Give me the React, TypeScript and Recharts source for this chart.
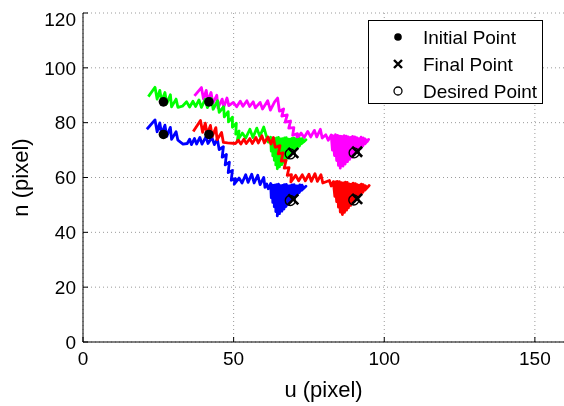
import React from "react";
import { ComposedChart, Line, Scatter, XAxis, YAxis, CartesianGrid, Label } from "recharts";

const xTicks = [0, 50, 100, 150];
const yTicks = [0, 20, 40, 60, 80, 100, 120];

// trajectories, [u, n] in pixels
const greenPath = [
  [21.7, 89.5], [23.9, 92.9], [24.6, 88.6], [25.5, 91.8], [26.1, 87.8], [27.2, 91.0], [27.8, 86.9], [29.0, 90.2],
  [29.4, 85.8], [30.9, 88.6], [31.5, 85.6], [33.0, 86.0], [34.4, 87.6], [35.4, 85.7], [36.5, 87.8], [37.4, 85.9],
  [38.5, 88.3], [39.3, 85.6], [40.6, 88.6], [41.3, 85.5], [42.6, 88.8], [43.2, 84.9], [44.7, 88.0], [45.2, 83.8],
  [46.7, 85.8], [46.9, 82.1], [48.2, 84.0], [48.3, 80.3], [49.6, 82.0], [49.6, 78.3], [50.9, 79.8], [50.7, 75.8],
  [51.8, 77.0], [51.2, 73.4], [52.9, 76.2], [54.0, 74.4], [55.4, 77.6], [56.4, 74.6], [57.7, 78.0], [58.7, 75.0],
  [60.0, 78.4], [60.9, 75.0],
  [61.0, 74.6], [61.5, 72.9], [62.3, 74.7], [62.5, 69.6], [63.6, 74.3], [63.5, 66.3], [64.9, 74.6], [64.5, 63.2],
  [66.2, 74.2], [66.0, 64.7], [67.5, 74.5], [67.4, 66.4], [68.8, 74.0], [68.9, 68.1], [70.1, 74.4], [70.3, 69.8],
  [71.4, 73.9], [71.8, 71.4], [72.7, 74.2], [73.3, 73.0], [74.0, 73.8], [72.5, 72.3], [72.0, 74.2], [71.1, 70.6],
  [70.8, 73.9], [69.6, 68.9], [69.4, 74.3], [68.2, 67.2], [68.2, 74.0], [66.7, 65.5], [66.9, 74.4], [65.2, 63.9],
  [65.6, 74.1], [64.0, 64.6], [64.3, 74.4], [63.0, 67.9], [63.0, 74.2], [64.6, 69.0], [66.8, 71.8], [67.6, 67.6],
  [69.0, 71.6], [69.8, 69.0],
];

const magentaPath = [
  [37.0, 89.8], [39.3, 92.8], [40.0, 88.6], [40.9, 91.8], [41.4, 87.8], [42.5, 91.0], [43.1, 87.0], [44.4, 90.0],
  [44.8, 85.4], [46.2, 88.6], [46.7, 85.6], [47.8, 89.0], [48.4, 86.2], [49.9, 87.4], [51.0, 85.8], [52.2, 87.8],
  [53.1, 86.0], [54.4, 88.0], [55.3, 85.9], [56.5, 87.6], [57.2, 85.4], [58.8, 87.4], [59.6, 85.0], [61.3, 88.0],
  [62.2, 84.6], [63.6, 87.6], [64.6, 89.0], [65.2, 84.2], [66.6, 85.0], [66.0, 82.4], [67.8, 82.8], [67.1, 80.2],
  [68.9, 80.6], [68.3, 78.0], [70.0, 78.2], [69.6, 75.4], [71.2, 76.0], [70.8, 73.6], [72.4, 76.2], [73.4, 74.6],
  [74.6, 76.8], [75.6, 74.8], [76.8, 77.2], [77.6, 74.8], [78.8, 77.6], [79.4, 74.4],
  [80.6, 75.6], [81.4, 73.6], [82.4, 75.5], [82.8, 70.0], [83.8, 75.6], [84.2, 66.2], [85.3, 75.1], [85.4, 63.4],
  [86.7, 75.3], [87.0, 64.9], [88.1, 74.8], [88.5, 66.6], [89.5, 75.0], [90.0, 68.3], [90.9, 74.5], [91.5, 69.9],
  [92.3, 74.7], [92.9, 71.5], [93.6, 74.1], [94.3, 73.1], [94.8, 73.9], [93.6, 72.3], [93.0, 74.4], [92.2, 70.7],
  [91.6, 74.2], [90.8, 69.1], [90.2, 74.8], [89.3, 67.4], [88.9, 74.6], [87.8, 65.8], [87.4, 75.1], [86.3, 64.2],
  [85.9, 75.0], [84.8, 64.4], [84.5, 75.4], [83.5, 68.0], [82.9, 75.3], [84.0, 71.0], [86.0, 73.4], [87.2, 68.6],
  [89.2, 72.6], [91.0, 69.4],
];

const bluePath = [
  [21.2, 77.6], [23.9, 81.0], [24.6, 76.7], [25.5, 79.9], [26.1, 75.9], [27.2, 79.1], [27.8, 75.0], [29.0, 78.3],
  [29.4, 73.9], [30.9, 76.7], [31.5, 73.6], [33.2, 72.2], [34.6, 72.4], [35.4, 74.0], [36.0, 72.0], [37.0, 74.2],
  [37.7, 72.2], [38.8, 74.6], [39.5, 72.2], [40.8, 74.8], [41.5, 72.4], [42.8, 74.6], [43.6, 72.0], [44.6, 74.0],
  [45.2, 70.2], [46.6, 71.2], [46.2, 67.4], [47.6, 68.4], [47.2, 64.6], [48.6, 65.6], [48.2, 61.8], [49.6, 62.6],
  [49.2, 59.0], [50.6, 59.6], [50.2, 57.6], [51.8, 59.8], [52.8, 58.0], [54.0, 61.0], [54.8, 58.2], [56.0, 61.2],
  [56.8, 58.0], [58.0, 60.8], [58.8, 57.4], [60.0, 60.0], [60.4, 56.4],
  [61.0, 57.6], [61.5, 55.9], [62.3, 57.8], [62.5, 52.6], [63.6, 57.2], [63.5, 49.3], [64.9, 57.6], [64.5, 46.0],
  [66.2, 57.1], [66.0, 47.7], [67.5, 57.5], [67.4, 49.4], [68.8, 57.0], [68.9, 51.1], [70.1, 57.4], [70.4, 52.8],
  [71.4, 56.9], [71.8, 54.5], [72.7, 57.2], [73.3, 56.1], [74.0, 56.8], [72.5, 55.3], [72.0, 57.3], [71.1, 53.6],
  [70.8, 56.9], [69.6, 51.9], [69.4, 57.3], [68.2, 50.2], [68.1, 56.9], [66.7, 48.5], [66.8, 57.4], [65.2, 46.8],
  [65.5, 57.0], [64.0, 47.6], [64.2, 57.4], [63.0, 50.9], [62.9, 57.2], [64.6, 52.0], [66.8, 54.8], [67.6, 50.6],
  [69.0, 54.6], [69.8, 52.0],
];

const redPath = [
  [36.6, 76.8], [39.0, 80.8], [39.7, 76.5], [40.6, 79.8], [41.2, 75.8], [42.3, 79.0], [42.9, 74.9], [44.1, 78.2],
  [44.5, 73.8], [46.0, 76.4], [46.6, 72.8], [48.0, 72.6], [50.6, 72.4], [51.6, 73.6], [52.4, 72.2], [53.4, 74.0],
  [54.2, 72.4], [55.4, 74.2], [56.2, 72.4], [57.4, 74.6], [58.2, 72.6], [59.4, 75.2], [60.2, 72.6], [61.4, 74.8],
  [62.4, 72.2], [63.2, 74.6], [63.8, 71.0], [65.4, 71.6], [64.8, 68.6], [66.4, 69.0], [65.8, 66.0], [67.4, 66.2],
  [66.8, 63.4], [68.4, 63.6], [67.8, 60.8], [69.2, 61.0], [69.0, 58.4], [70.6, 60.8], [71.6, 58.8], [72.8, 61.0],
  [73.8, 58.8], [75.0, 61.2], [75.8, 58.6], [77.0, 61.4], [77.8, 58.6], [79.0, 61.0], [79.6, 58.0],
  [81.8, 58.9], [82.4, 56.9], [83.1, 58.5], [83.6, 53.1], [84.4, 58.6], [84.8, 49.2], [85.8, 58.1], [86.1, 46.5],
  [87.1, 58.3], [87.5, 48.1], [88.4, 57.7], [88.8, 49.8], [89.7, 57.9], [90.2, 51.4], [91.0, 57.4], [91.6, 53.0],
  [92.4, 57.6], [92.9, 54.6], [93.7, 57.0], [94.3, 56.2], [95.0, 57.1], [93.6, 55.4], [93.0, 57.4], [92.3, 53.8],
  [91.7, 57.2], [90.9, 52.2], [90.4, 57.8], [89.5, 50.5], [89.1, 57.6], [88.1, 48.9], [87.7, 58.2], [86.8, 47.3],
  [86.4, 58.0], [85.4, 47.4], [85.1, 58.5], [84.2, 51.2], [83.8, 58.4], [84.6, 54.0], [86.6, 56.4], [87.6, 51.6],
  [89.4, 55.6], [91.0, 52.2],
];

const initialPoints = [[26.7, 87.6], [41.8, 87.6], [26.7, 75.7], [41.8, 75.7]];
const finalPoints = [[69.8, 69.0], [91.0, 69.4], [69.8, 52.0], [91.0, 52.2]];
const desiredPoints = [[68.8, 68.6], [90.0, 69.0], [68.8, 51.6], [89.9, 51.8]];

const legendItems = ["Initial Point", "Final Point", "Desired Point"];

const toRows = (pts: number[][]) => pts.map(([u, n]) => ({ u, n }));

const font = "'Liberation Sans', Arial, sans-serif";

const DotShape = (p: any) => <circle cx={p.cx} cy={p.cy} r={4.8} fill="#000" />;
const CrossShape = (p: any) => {
  const s = 5;
  return (
    <path
      d={`M${p.cx - s},${p.cy - s}L${p.cx + s},${p.cy + s}M${p.cx - s},${p.cy + s}L${p.cx + s},${p.cy - s}`}
      stroke="#000"
      strokeWidth={2.6}
      fill="none"
    />
  );
};
const RingShape = (p: any) => (
  <circle cx={p.cx} cy={p.cy} r={5} fill="none" stroke="#000" strokeWidth={1.4} />
);

const LegendMarker = ({ kind }: { kind: number }) => (
  <svg width={14} height={14} style={{ position: "absolute", left: 22, top: 6.5 }}>
    {kind === 0 && <circle cx={7} cy={7} r={3.8} fill="#000" />}
    {kind === 1 && <path d="M3,3L11,11M3,11L11,3" stroke="#000" strokeWidth={2.4} />}
    {kind === 2 && <circle cx={7} cy={7} r={4} fill="none" stroke="#000" strokeWidth={1.3} />}
  </svg>
);

const lineProps = {
  dataKey: "n",
  type: "linear" as const,
  strokeWidth: 2.8,
  strokeLinejoin: "round" as const,
  dot: false,
  activeDot: false,
  isAnimationActive: false,
};

const App = () => {
  return (
    // fixed so the slightly oversized plot does not make the page scroll
    <div style={{ position: "fixed", left: 8, top: 8, width: 557, height: 398 }}>
      <ComposedChart width={557} height={398} margin={{ top: 5, right: 0, bottom: 0, left: 0 }}>
        <CartesianGrid stroke="#9a9a9a" strokeDasharray="1 3" />
        <XAxis
          dataKey="u"
          type="number"
          domain={[0, 160]}
          ticks={xTicks}
          height={64}
          tickSize={-5}
          tickMargin={14.5}
          stroke="#000"
          tick={{ fill: "#000", fontSize: 19, fontFamily: font }}
        >
          <Label
            content={() => (
              <text x={315.5} y={389} textAnchor="middle" fontSize={22} fontFamily={font} fill="#000">
                u (pixel)
              </text>
            )}
          />
        </XAxis>
        <XAxis
          xAxisId="top"
          orientation="top"
          type="number"
          domain={[0, 160]}
          ticks={xTicks}
          height={0}
          tickSize={-5}
          tickFormatter={() => ""}
          stroke="#000"
        />
        <YAxis
          dataKey="n"
          type="number"
          domain={[0, 120]}
          ticks={yTicks}
          width={75}
          tickSize={-5}
          tickMargin={12}
          stroke="#000"
          tick={{ fill: "#000", fontSize: 19, fontFamily: font }}
        >
          <Label
            content={() => (
              <text
                x={20}
                y={169.5}
                transform="rotate(-90 20 169.5)"
                textAnchor="middle"
                fontSize={22}
                fontFamily={font}
                fill="#000"
              >
                n (pixel)
              </text>
            )}
          />
        </YAxis>
        <Line {...lineProps} data={toRows(magentaPath)} stroke="#ff00ff" />
        <Line {...lineProps} data={toRows(greenPath)} stroke="#00ff00" />
        <Line {...lineProps} data={toRows(bluePath)} stroke="#0000ff" />
        <Line {...lineProps} data={toRows(redPath)} stroke="#ff0000" />
        <Scatter data={toRows(initialPoints)} dataKey="n" shape={DotShape} isAnimationActive={false} />
        <Scatter data={toRows(desiredPoints)} dataKey="n" shape={RingShape} isAnimationActive={false} />
        <Scatter data={toRows(finalPoints)} dataKey="n" shape={CrossShape} isAnimationActive={false} />
      </ComposedChart>
      <div
        style={{
          position: "absolute",
          left: 360,
          top: 12,
          width: 173,
          height: 82,
          border: "1px solid #000",
          background: "#fff",
          fontFamily: font,
          fontSize: 19,
        }}
      >
        {legendItems.map((name, i) => (
          <div key={name} style={{ position: "absolute", left: 0, top: 2.5 + i * 27, height: 27, width: 173 }}>
            <LegendMarker kind={i} />
            <span style={{ position: "absolute", left: 54, top: 0, lineHeight: "27px", whiteSpace: "nowrap" }}>
              {name}
            </span>
          </div>
        ))}
      </div>
    </div>
  );
};

export default App;
